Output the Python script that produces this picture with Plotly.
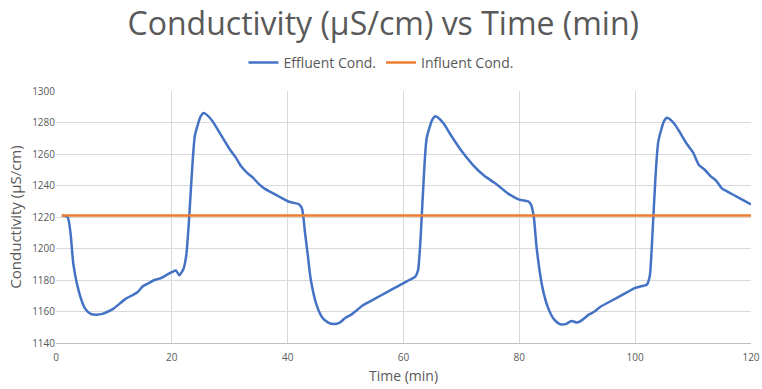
import plotly.graph_objects as go

time_eff = [1, 2, 2.5, 3, 4, 5, 6, 7, 8, 9, 10, 11, 12, 13, 14, 15, 16, 17, 18, 19, 20, 20.7, 21.3, 22, 22.5, 23, 23.5, 24, 25, 25.5, 26, 27, 28, 29, 30, 31, 32, 33, 34, 35, 36, 37, 38, 39, 40, 41, 42, 42.5, 43, 43.5, 44, 45, 46, 47, 48, 49, 50, 51, 52, 53, 54, 56, 58, 60, 61, 62, 62.5, 63, 63.5, 64, 65, 65.5, 66, 67, 68, 70, 72, 74, 76, 78, 80, 81.5, 82, 82.5, 83, 84, 85, 86, 87, 88, 89, 90, 91, 92, 93, 94, 96, 98, 100, 101, 102, 102.5, 103, 103.5, 104, 105, 105.5, 106, 107, 108, 109, 110, 111, 112, 113, 114, 115, 116, 118, 120]
cond_eff = [1221, 1220, 1210, 1190, 1172, 1162, 1158.5, 1158, 1158.5, 1160, 1162, 1165, 1168, 1170, 1172, 1176, 1178, 1180, 1181, 1183, 1185, 1186, 1183, 1187, 1196, 1220, 1250, 1272, 1284, 1286, 1285, 1281, 1275, 1269, 1263, 1258, 1252, 1248, 1245, 1241, 1238, 1236, 1234, 1232, 1230, 1229, 1228, 1225, 1210, 1195, 1180, 1164, 1156, 1153, 1152, 1153, 1156, 1158, 1161, 1164, 1166, 1170, 1174, 1178, 1180, 1182, 1186, 1210, 1245, 1270, 1282, 1284, 1283, 1279, 1273, 1262, 1253, 1246, 1241, 1235, 1231, 1230, 1228, 1220, 1200, 1175, 1162, 1155, 1152, 1152, 1154, 1153, 1155, 1158, 1160, 1163, 1167, 1171, 1175, 1176, 1177, 1182, 1210, 1245, 1268, 1281, 1283, 1282, 1278, 1272, 1266, 1261, 1253, 1250, 1246, 1243, 1238, 1236, 1232, 1228]

time_inf = [1, 120]
cond_inf = [1221, 1221]

x_ticks = [0, 20, 40, 60, 80, 100, 120]
y_ticks = [1140, 1160, 1180, 1200, 1220, 1240, 1260, 1280, 1300]

font_family = "Open Sans, Noto Sans, sans-serif"
grey = "#595959"

fig = go.Figure()
fig.add_trace(go.Scatter(x=time_eff, y=cond_eff, mode="lines", name="Effluent Cond.",
                         line=dict(color="#4472C4", width=2.5, shape="spline", smoothing=0.6)))
fig.add_trace(go.Scatter(x=time_inf, y=cond_inf, mode="lines", name="Influent Cond.",
                         line=dict(color="#ED7D31", width=2.5)))

fig.update_layout(
    width=762, height=389,
    margin=dict(l=56, r=11, t=91, b=46),
    paper_bgcolor="white", plot_bgcolor="white",
    font=dict(family=font_family, color=grey),
    title=dict(text="Conductivity (µS/cm) vs Time (min)", x=0.503, xanchor="center",
               y=0.94, yanchor="middle", font=dict(size=32, color=grey, family=font_family)),
    legend=dict(orientation="h", xref="container", x=0.5, xanchor="center",
                yref="container", y=0.838, yanchor="middle",
                font=dict(size=14, color=grey), itemwidth=30),
    xaxis=dict(range=[0, 120], tickvals=x_ticks, showgrid=True, gridcolor="#d9d9d9", gridwidth=1,
               showline=True, linecolor="#bfbfbf", zeroline=False, ticks="", automargin=False,
               tickfont=dict(size=10, color=grey), ticklabelstandoff=5,
               title=dict(text="Time (min)", font=dict(size=14, color=grey), standoff=8)),
    yaxis=dict(range=[1140, 1300], tickvals=y_ticks, showgrid=True, gridcolor="#d9d9d9", gridwidth=1,
               showline=False, zeroline=False, ticks="", automargin=False,
               tickfont=dict(size=10, color=grey),
               title=dict(text="Conductivity (µS/cm)", font=dict(size=15, color=grey), standoff=6)),
    showlegend=True,
)

fig.write_html("out.html", config={"displayModeBar": False},
               post_script="document.body.style.margin='0';document.body.style.padding='0';")
